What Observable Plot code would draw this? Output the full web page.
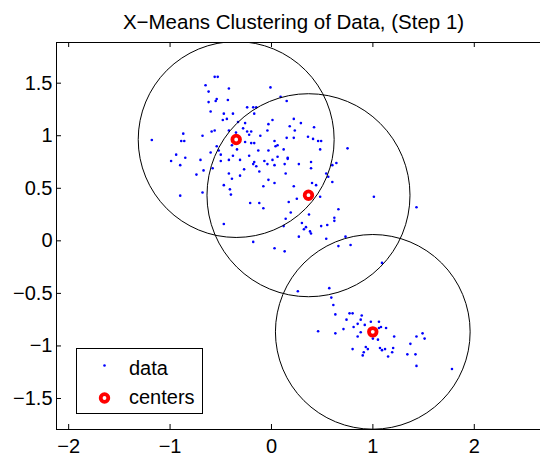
<!DOCTYPE html>
<html>
<head>
<meta charset="utf-8">
<script src="https://cdn.jsdelivr.net/npm/d3@7"></script>
<script src="https://cdn.jsdelivr.net/npm/@observablehq/plot@0.6"></script>
<style>
  html, body { margin: 0; padding: 0; background: #fff; overflow: hidden; }
  #wrap { position: relative; width: 540px; height: 459px; font-family: "Liberation Sans", Arial, Helvetica, sans-serif; }
  #legend { position: absolute; left: 76px; top: 348px; width: 127px; height: 66px; box-sizing: border-box; border: 1px solid #000; background: #fff; }
</style>
</head>
<body>
<div id="wrap"></div>
<script>
const titleText = "X\u2212Means Clustering of Data, (Step 1)";
const xTicks = [-2, -1, 0, 1, 2];
const yTicks = [-1.5, -1, -0.5, 0, 0.5, 1, 1.5];
const xDomain = [-2.12, 2.653];
const yDomain = [-1.795, 1.887];

const dataX = [-0.56,-0.53,-0.65,-0.42,-0.01,-0.62,-0.54,-0.55,0.09,-0.62,-0.43,0.15,-0.24,-0.18,-0.15,-0.60,-0.47,-0.38,-0.17,-0.44,
-0.48,0.01,0.22,0.29,-0.33,-0.26,-0.03,0.18,0.42,-0.04,0.23,-0.59,-0.56,-0.42,-0.35,-0.28,-0.24,-0.20,-0.22,-0.11,
-0.87,-0.68,-1.18,-0.89,-0.86,0.15,0.22,0.36,0.41,0.46,0.49,0.03,-0.26,-0.20,-0.17,0.06,0.04,-0.39,-0.54,-0.34,
-0.60,-0.52,-0.50,-0.13,-0.03,0.12,0.48,-0.94,-0.38,-0.22,0.06,0.16,0.16,-0.85,-0.70,-0.42,-0.99,-0.50,-0.31,-0.17,
-0.18,-0.15,-0.07,-0.04,0.01,0.03,0.13,0.27,0.39,0.39,-0.90,-0.67,-0.58,-0.27,-0.12,-0.42,-0.31,-0.74,-0.39,-0.03,
0.14,0.54,0.56,0.03,-0.90,-0.68,-0.47,-0.41,-0.40,-0.08,0.22,0.40,0.44,0.60,0.48,0.25,0.17,-0.21,-0.12,-0.08,
1.01,0.66,0.19,0.37,0.14,0.62,0.62,-0.47,0.30,0.12,0.49,0.55,0.34,0.32,0.38,0.39,0.27,0.54,0.73,0.78,
0.66,-0.18,0.03,0.13,1.09,0.75,0.60,0.64,1.43,0.26,0.57,0.59,0.61,0.63,0.77,0.80,0.89,0.74,0.88,0.85,
0.81,0.92,0.98,1.06,1.08,1.06,1.13,0.71,0.46,0.63,0.88,0.85,1.00,1.05,1.21,1.43,1.49,1.51,1.37,0.93,
0.95,0.80,1.07,1.09,1.12,1.20,1.19,0.91,0.90,1.15,1.34,1.42,1.43,1.78];
const dataY = [1.56,1.56,1.48,1.45,1.46,1.42,1.35,1.33,1.37,1.32,1.34,1.33,1.27,1.27,1.27,1.23,1.21,1.21,1.21,1.16,
1.15,1.15,1.16,1.12,1.13,1.12,1.11,1.09,1.08,1.05,1.05,1.04,1.05,1.05,1.03,1.07,1.04,1.04,1.01,1.00,
1.02,1.00,0.96,0.95,0.95,0.98,0.98,0.99,0.97,0.95,0.95,0.95,0.94,0.93,0.93,0.91,0.90,0.91,0.90,0.87,
0.84,0.86,0.82,0.86,0.86,0.87,0.87,0.82,0.81,0.81,0.80,0.79,0.78,0.79,0.77,0.77,0.76,0.76,0.77,0.75,
0.73,0.71,0.76,0.73,0.77,0.72,0.73,0.73,0.75,0.69,0.72,0.67,0.69,0.68,0.66,0.64,0.62,0.63,0.59,0.58,
0.64,0.64,0.61,0.55,0.43,0.46,0.53,0.49,0.44,0.52,0.52,0.55,0.53,0.56,0.42,0.40,0.37,0.36,0.36,0.31,
0.42,0.30,0.27,0.25,0.21,0.22,0.19,0.16,0.17,0.14,0.14,0.15,0.13,0.11,0.09,0.07,0.04,0.02,0.04,-0.04,
-0.05,-0.01,-0.07,-0.10,-0.21,0.88,0.72,0.74,0.32,-0.48,-0.45,-0.54,-0.61,-0.70,-0.69,-0.69,-0.71,-0.75,-0.75,-0.79,
-0.82,-0.80,-0.77,-0.77,-0.82,-0.83,-0.83,-0.84,-0.86,-0.88,-0.87,-0.91,-0.93,-0.94,-0.91,-0.91,-0.88,-0.93,-0.98,-1.01,
-1.03,-1.03,-1.02,-1.04,-1.03,-1.02,-1.06,-1.06,-1.09,-1.10,-1.08,-1.08,-1.19,-1.22];

const centerX = [-0.348, 0.365, 0.999];
const centerY = [0.964, 0.434, -0.866];
const radius = [0.966, 1.001, 0.960];

const points = dataX.map((x, i) => ({x, y: dataY[i]}));
const centers = centerX.map((x, i) => ({x, y: centerY[i], r: radius[i]}));

const W = 540, H = 459, mL = 56, mR = 0, mT = 42, mB = 30;
const frameW = W - mL - mR, frameH = H - mT - mB;
const pxPerUnit = frameW / (xDomain[1] - xDomain[0]);
const font = '"Liberation Sans", Arial, Helvetica, sans-serif';
const fmt = d => String(d).replace("-", "\u2212");

const chart = Plot.plot({
  width: W, height: H,
  marginLeft: mL, marginRight: mR, marginTop: mT, marginBottom: mB,
  style: {fontFamily: font, color: "#000", background: "#fff", overflow: "visible"},
  x: {domain: xDomain},
  y: {domain: yDomain},
  r: {type: "linear", domain: [0, 1], range: [0, pxPerUnit]},
  marks: [
    Plot.dot(points, {x: "x", y: "y", r: 1.3, fill: "#0000ff", stroke: "none", clip: true}),
    Plot.dot(centers, {x: "x", y: "y", r: "r", fill: "none", stroke: "#000", strokeWidth: 1, clip: true}),
    Plot.dot(centers, {x: "x", y: "y", r: 3.8, fill: "#fff", stroke: "#ff0000", strokeWidth: 3.8}),
    Plot.ruleX([xDomain[0]], {stroke: "#000", strokeWidth: 1}),
    Plot.ruleY([yDomain[0], yDomain[1]], {stroke: "#000", strokeWidth: 1}),
    Plot.tickX(xTicks, {x: d => d, stroke: "#000", insetTop: frameH - 5}),
    Plot.tickX(xTicks, {x: d => d, stroke: "#000", insetBottom: frameH - 5}),
    Plot.tickY(yTicks, {y: d => d, stroke: "#000", insetRight: frameW - 5}),
    Plot.axisX({ticks: xTicks, tickFormat: fmt, anchor: "bottom", tickSize: 0, tickPadding: 9, fontSize: 20, label: null}),
    Plot.axisY({ticks: yTicks, tickFormat: fmt, anchor: "left", tickSize: 0, tickPadding: 4, fontSize: 20, label: null}),
    Plot.text([titleText], {frameAnchor: "top", dx: -5, dy: -14, lineAnchor: "bottom", fontSize: 20.5, fill: "#000"})
  ]
});

const wrap = document.getElementById("wrap");
wrap.appendChild(chart);

const legend = document.createElement("div");
legend.id = "legend";
legend.innerHTML = `
<svg width="125" height="64" style="position:absolute;left:0;top:0;font-family:${font.replace(/"/g, "'")}">
  <circle cx="27.5" cy="16.5" r="1.3" fill="#0000ff"></circle>
  <text x="52" y="26" font-size="20" fill="#000">data</text>
  <circle cx="27.5" cy="49" r="3.8" fill="#fff" stroke="#ff0000" stroke-width="3.8"></circle>
  <text x="52" y="55" font-size="20" fill="#000">centers</text>
</svg>`;
wrap.appendChild(legend);
</script>
</body>
</html>
